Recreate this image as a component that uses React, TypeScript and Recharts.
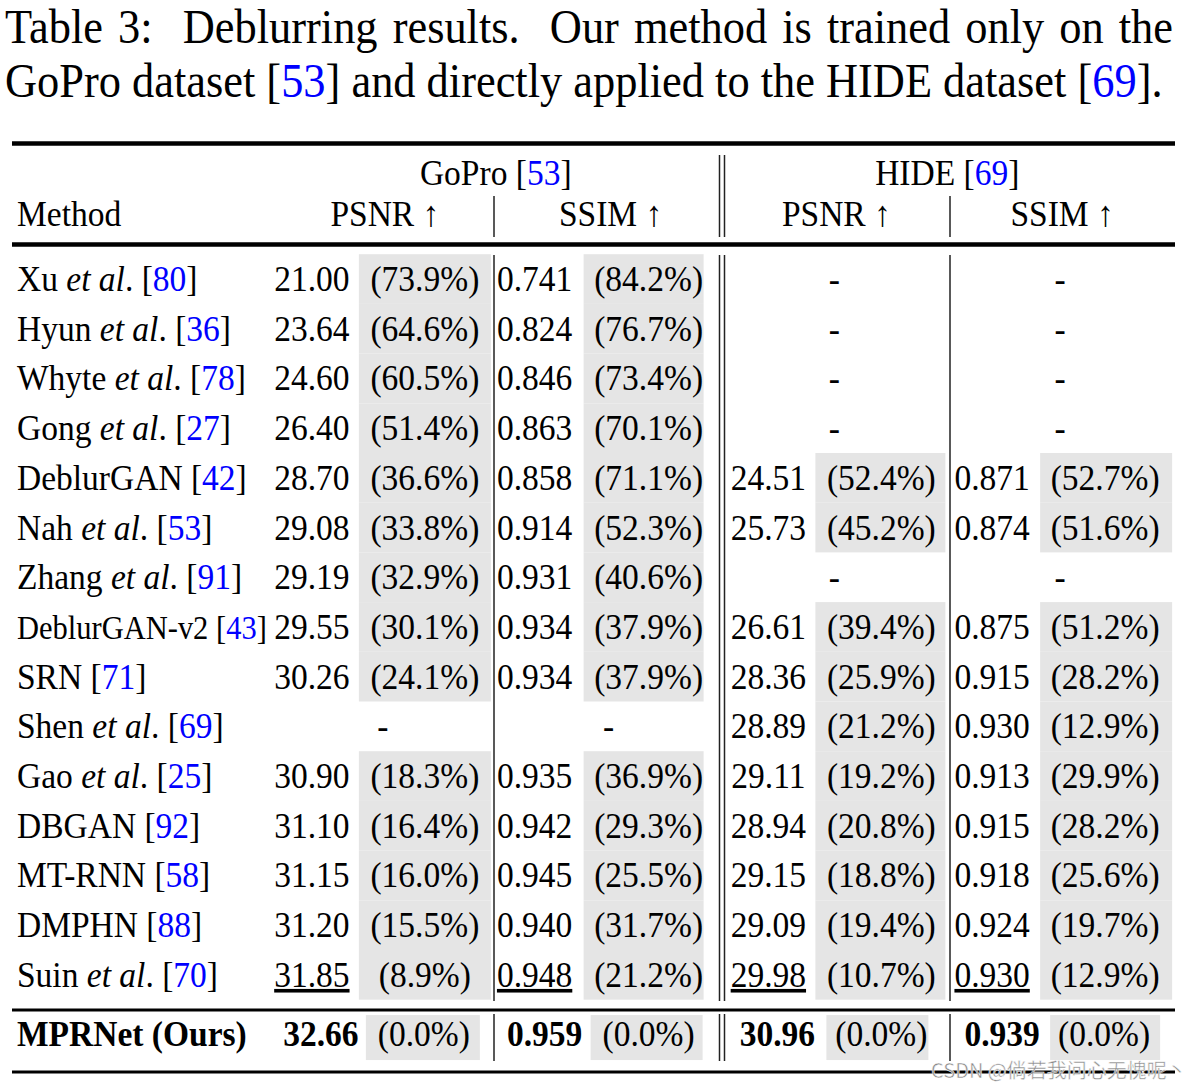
import React from "react";
import { ScatterChart, Scatter, XAxis, YAxis, Customized } from "recharts";

// rows of the table (label text carries the citation)
const METHODS = [
  "Xu et al. [80]",
  "Hyun et al. [36]",
  "Whyte et al. [78]",
  "Gong et al. [27]",
  "DeblurGAN [42]",
  "Nah et al. [53]",
  "Zhang et al. [91]",
  "DeblurGAN-v2 [43]",
  "SRN [71]",
  "Shen et al. [69]",
  "Gao et al. [25]",
  "DBGAN [92]",
  "MT-RNN [58]",
  "DMPHN [88]",
  "Suin et al. [70]",
  "MPRNet (Ours)",
];
const OURS = "MPRNet (Ours)";
const SECOND_BEST = "Suin et al. [70]";
const SMALL_LABELS = ["DeblurGAN-v2 [43]"];

const DATASETS = ["GoPro", "HIDE"];
const DATASET_REFS = [53, 69];
const METRICS = ["GoPro PSNR", "GoPro SSIM", "HIDE PSNR", "HIDE SSIM"];

const GOPRO_PSNR = [21.0, 23.64, 24.6, 26.4, 28.7, 29.08, 29.19, 29.55, 30.26, null, 30.9, 31.1, 31.15, 31.2, 31.85, 32.66];
const GOPRO_PSNR_PCT = [73.9, 64.6, 60.5, 51.4, 36.6, 33.8, 32.9, 30.1, 24.1, null, 18.3, 16.4, 16.0, 15.5, 8.9, 0.0];
const GOPRO_SSIM = [0.741, 0.824, 0.846, 0.863, 0.858, 0.914, 0.931, 0.934, 0.934, null, 0.935, 0.942, 0.945, 0.94, 0.948, 0.959];
const GOPRO_SSIM_PCT = [84.2, 76.7, 73.4, 70.1, 71.1, 52.3, 40.6, 37.9, 37.9, null, 36.9, 29.3, 25.5, 31.7, 21.2, 0.0];
const HIDE_PSNR = [null, null, null, null, 24.51, 25.73, null, 26.61, 28.36, 28.89, 29.11, 28.94, 29.15, 29.09, 29.98, 30.96];
const HIDE_PSNR_PCT = [null, null, null, null, 52.4, 45.2, null, 39.4, 25.9, 21.2, 19.2, 20.8, 18.8, 19.4, 10.7, 0.0];
const HIDE_SSIM = [null, null, null, null, 0.871, 0.874, null, 0.875, 0.915, 0.93, 0.913, 0.915, 0.918, 0.924, 0.93, 0.939];
const HIDE_SSIM_PCT = [null, null, null, null, 52.7, 51.6, null, 51.2, 28.2, 12.9, 29.9, 28.2, 25.6, 19.7, 12.9, 0.0];

const SERIES = [
  { metric: METRICS[0], values: GOPRO_PSNR, pcts: GOPRO_PSNR_PCT, digits: 2 },
  { metric: METRICS[1], values: GOPRO_SSIM, pcts: GOPRO_SSIM_PCT, digits: 3 },
  { metric: METRICS[2], values: HIDE_PSNR, pcts: HIDE_PSNR_PCT, digits: 2 },
  { metric: METRICS[3], values: HIDE_SSIM, pcts: HIDE_SSIM_PCT, digits: 3 },
];

// ---- layout ----
const W = 1190;
const H = 1089;
const SERIF = '"Liberation Serif", "Times New Roman", serif';
const FONT = 33.5;
const SMALL_FONT = 30.5;
const SY = 1.08; // glyphs in the scan are a bit taller than wide
const CITE_BLUE = "#0000FF";
const BOX_FILL = "#E5E5E5";
const PLOT_LEFT = 272;
const PLOT_RIGHT = 1175;
const PLOT_TOP = 254.2;
const ROW_H = 49.7;
const BAND = (PLOT_RIGHT - PLOT_LEFT) / METRICS.length;
const OURS_SHIFT = 9.5;

// offsets from band centre: value text, grey box, percentage text
const CELL_LAYOUT = [
  { val: -73, box: [-26, 106], pct: 40 },
  { val: -76, box: [-27, 93], pct: 38 },
  { val: -68, box: [-21, 109], pct: 45 },
  { val: -70, box: [-22, 110], pct: 43 },
];
const OURS_LAYOUT = [
  { val: -64, box: [-19, 95], pct: 39 },
  { val: -66, box: [-20, 92], pct: 38 },
  { val: -59, box: [-10, 92], pct: 45 },
  { val: -60, box: [-12, 98], pct: 42 },
];
const SEPARATORS = [494, 719.5, 724.5, 950];

function T({ x, y, anchor = "start", size = FONT, weight = 400, fill = "#000", underline = false, children }: any) {
  return (
    <text
      x={x}
      y={0}
      transform={`translate(0 ${y}) scale(1 ${SY})`}
      textAnchor={anchor}
      fontSize={size}
      fontWeight={weight}
      fontFamily={SERIF}
      fill={fill}
      style={underline ? { textDecoration: "underline" } : undefined}
    >
      {children}
    </text>
  );
}

function MethodTick({ y, payload }: any) {
  const label: string = payload.value;
  const ours = label === OURS;
  const m = label.match(/^(.*?)( et al\.)? \[(\d+)\]$/);
  const size = SMALL_LABELS.includes(label) ? SMALL_FONT : FONT;
  const base = (ours ? y + OURS_SHIFT : y) + 12;
  if (!m) {
    return (
      <T x={17} y={base} size={size} weight={ours ? 700 : 400}>
        {label}
      </T>
    );
  }
  return (
    <T x={17} y={base} size={size}>
      {m[1]}
      {m[2] ? (
        <>
          {" "}
          <tspan fontStyle="italic">et al</tspan>.
        </>
      ) : null}{" "}
      [<tspan fill={CITE_BLUE}>{m[3]}</tspan>]
    </T>
  );
}

function HeaderTick({ x, payload, index }: any) {
  const [ds, name] = String(payload.value).split(" ");
  const di = DATASETS.indexOf(ds);
  return (
    <g>
      <T x={x} y={226} anchor="middle">
        {name} ↑
      </T>
      {index % 2 === 0 ? (
        <T x={x + BAND / 2 - 2} y={185} anchor="middle">
          {ds} [<tspan fill={CITE_BLUE}>{DATASET_REFS[di]}</tspan>]
        </T>
      ) : null}
    </g>
  );
}

function CellShape(props: any) {
  const { cx, cy, payload } = props;
  const i = METRICS.indexOf(payload.metric);
  const ours = payload.method === OURS;
  const L = ours ? OURS_LAYOUT[i] : CELL_LAYOUT[i];
  const y = ours ? cy + OURS_SHIFT : cy;
  if (payload.value == null) {
    return (
      <T x={cx - 2} y={y + 12} anchor="middle">
        -
      </T>
    );
  }
  const top = ours ? y - 19 : y - ROW_H / 2;
  const h = ours ? 45 : ROW_H;
  return (
    <g>
      <rect x={cx + L.box[0]} y={top} width={L.box[1] - L.box[0]} height={h} fill={BOX_FILL} />
      <T
        x={cx + L.val}
        y={y + 12}
        anchor="middle"
        weight={ours ? 700 : 400}
        underline={payload.method === SECOND_BEST}
      >
        {payload.value.toFixed(payload.digits)}
      </T>
      <T x={cx + L.pct} y={y + 12} anchor="middle">
        ({payload.pct.toFixed(1)}%)
      </T>
    </g>
  );
}

function Rules() {
  const bodyTop = 255;
  const bodyBottom = 1001;
  return (
    <g>
      <line x1={12} x2={1175} y1={143.5} y2={143.5} stroke="#000" strokeWidth={4.5} />
      <line x1={12} x2={1175} y1={244.5} y2={244.5} stroke="#000" strokeWidth={4.5} />
      <line x1={12} x2={1175} y1={1010} y2={1010} stroke="#000" strokeWidth={3} />
      <line x1={12} x2={1175} y1={1072} y2={1072} stroke="#000" strokeWidth={3} />
      <T x={17} y={226}>
        Method
      </T>
      {SEPARATORS.map((sx, k) => {
        const dbl = k === 1 || k === 2;
        return (
          <g key={k} stroke="#222" strokeWidth={1.5}>
            <line x1={sx} x2={sx} y1={dbl ? 155 : 196} y2={237} />
            <line x1={sx} x2={sx} y1={bodyTop} y2={bodyBottom} />
            <line x1={sx} x2={sx} y1={1014} y2={1061} />
          </g>
        );
      })}
      <text
        x={931}
        y={1078}
        fontSize={20}
        fontFamily='"Noto Sans CJK SC", "Noto Sans", sans-serif'
        fill="#8a8a8a"
        stroke="#fff"
        strokeWidth={0.5}
      >
        CSDN @倘若我问心无愧呢丶
      </text>
    </g>
  );
}

export default function App() {
  const series = SERIES.map((s) =>
    METHODS.map((method, i) => ({
      metric: s.metric,
      method,
      value: s.values[i],
      pct: s.pcts[i],
      digits: s.digits,
    })),
  );

  return (
    <div style={{ position: "absolute", left: 0, top: 0, width: W, height: H, background: "#fff" }}>
      <ScatterChart
        width={W}
        height={H}
        margin={{ top: PLOT_TOP - 30, right: W - PLOT_RIGHT, bottom: H - PLOT_TOP - ROW_H * METHODS.length, left: 0 }}
      >
        <XAxis
          type="category"
          dataKey="metric"
          orientation="top"
          height={30}
          allowDuplicatedCategory={false}
          axisLine={false}
          tickLine={false}
          interval={0}
          tick={<HeaderTick />}
        />
        <YAxis
          type="category"
          dataKey="method"
          width={PLOT_LEFT}
          reversed
          allowDuplicatedCategory={false}
          axisLine={false}
          tickLine={false}
          interval={0}
          tick={<MethodTick />}
        />
        <Customized component={<Rules />} />
        {series.map((data, k) => (
          <Scatter key={k} data={data} shape={<CellShape />} isAnimationActive={false} />
        ))}
      </ScatterChart>
      <div style={{ position: "absolute", left: 5, top: 0, width: 1168, fontFamily: SERIF, fontSize: 44.4, lineHeight: "44px", color: "#000" }}>
        <div style={{ position: "absolute", top: 3, width: 1168, textAlign: "justify", textAlignLast: "justify", transform: "scaleY(1.08)", transformOrigin: "top left" }}>
          Table 3:&nbsp; Deblurring results.&nbsp; Our method is trained only on the
        </div>
        <div style={{ position: "absolute", top: 57, whiteSpace: "nowrap", transform: "scaleY(1.08)", transformOrigin: "top left" }}>
          GoPro dataset [<span style={{ color: CITE_BLUE }}>53</span>] and directly applied to the HIDE dataset [
          <span style={{ color: CITE_BLUE }}>69</span>].
        </div>
      </div>
    </div>
  );
}
